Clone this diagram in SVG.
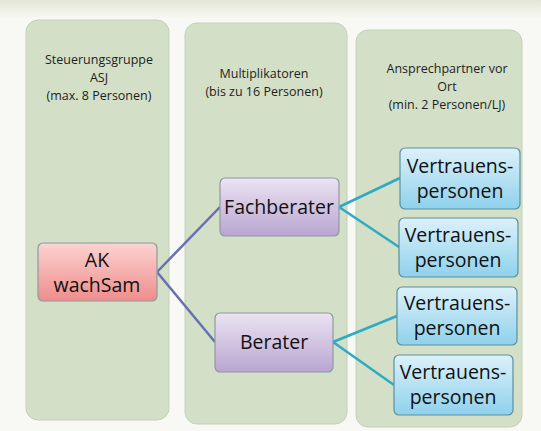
<svg xmlns="http://www.w3.org/2000/svg" width="541" height="431" viewBox="0 0 541 431">
<defs>
<linearGradient id="bgTop" x1="0" y1="0" x2="0" y2="1">
<stop offset="0" stop-color="#e3e6d6"/><stop offset="1" stop-color="#f7f8f2"/>
</linearGradient>
<linearGradient id="gRed" x1="0" y1="0" x2="0" y2="1">
<stop offset="0" stop-color="#fbd3d1"/><stop offset="1" stop-color="#ef8d8b"/>
</linearGradient>
<linearGradient id="gPur" x1="0" y1="0" x2="0" y2="1">
<stop offset="0" stop-color="#ebe3f2"/><stop offset="1" stop-color="#b9a5d1"/>
</linearGradient>
<linearGradient id="gBlu" x1="0" y1="0" x2="0" y2="1">
<stop offset="0" stop-color="#dcf1fa"/><stop offset="1" stop-color="#8fd1ec"/>
</linearGradient>
</defs>
<style>
.col{fill:#d3e0c7;stroke:#c3d1b8;stroke-width:1}
.hdr{font-family:"Open Sans","Liberation Sans",sans-serif;font-size:12.5px;fill:#1e1e1e;text-anchor:middle}
.lbl{font-family:"Open Sans","Liberation Sans",sans-serif;font-size:19.5px;fill:#111;text-anchor:middle}
.red{fill:url(#gRed);stroke:#8a9aa0;stroke-width:1.2}
.pur{fill:url(#gPur);stroke:#8a9aa0;stroke-width:1.2}
.blu{fill:url(#gBlu);stroke:#5a8fa0;stroke-width:1.2}
.c1{stroke:#6870b2;stroke-width:2.5;fill:none}
.c2{stroke:#2eaac4;stroke-width:2.5;fill:none}
</style>
<rect x="0" y="0" width="541" height="431" fill="#f8f9f4"/>
<rect x="0" y="0" width="541" height="18" fill="url(#bgTop)"/>
<g id="col1">
<rect class="col" x="26" y="20" width="143" height="400" rx="12"/>
<text class="hdr" x="99" y="64">Steuerungsgruppe</text>
<text class="hdr" x="99" y="82">ASJ</text>
<text class="hdr" x="99" y="100">(max. 8 Personen)</text>
</g>
<g id="col2">
<rect class="col" x="185" y="23" width="162" height="401" rx="12"/>
<text class="hdr" x="264" y="78">Multiplikatoren</text>
<text class="hdr" x="264" y="96">(bis zu 16 Personen)</text>
</g>
<g id="col3">
<rect class="col" x="356" y="30" width="166" height="397" rx="12"/>
<text class="hdr" x="447" y="73">Ansprechpartner vor</text>
<text class="hdr" x="447" y="91">Ort</text>
<text class="hdr" x="447" y="109">(min. 2 Personen/LJ)</text>
</g>
<g id="connectors">
<line class="c1" x1="157" y1="272" x2="220" y2="207"/>
<line class="c1" x1="157" y1="272" x2="215" y2="342"/>
<line class="c2" x1="339" y1="207" x2="400" y2="178"/>
<line class="c2" x1="339" y1="207" x2="399" y2="247"/>
<line class="c2" x1="333" y1="342" x2="397" y2="316"/>
<line class="c2" x1="333" y1="342" x2="394" y2="385"/>
</g>
<g id="ak">
<rect class="red" x="38" y="243" width="119" height="58" rx="5"/>
<text class="lbl" x="97" y="267">AK</text>
<text class="lbl" x="97" y="292">wachSam</text>
</g>
<g id="fachberater">
<rect class="pur" x="220" y="178" width="119" height="58" rx="5"/>
<text class="lbl" x="279" y="214">Fachberater</text>
</g>
<g id="berater">
<rect class="pur" x="215" y="313" width="118" height="59" rx="5"/>
<text class="lbl" x="274" y="349">Berater</text>
</g>
<g id="v1">
<rect class="blu" x="400" y="148" width="120" height="61" rx="5"/>
<text class="lbl" x="460" y="173">Vertrauens-</text>
<text class="lbl" x="460" y="198">personen</text>
</g>
<g id="v2">
<rect class="blu" x="399" y="218" width="119" height="59" rx="5"/>
<text class="lbl" x="458" y="242">Vertrauens-</text>
<text class="lbl" x="458" y="267">personen</text>
</g>
<g id="v3">
<rect class="blu" x="397" y="287" width="120" height="58" rx="5"/>
<text class="lbl" x="457" y="310">Vertrauens-</text>
<text class="lbl" x="457" y="335">personen</text>
</g>
<g id="v4">
<rect class="blu" x="394" y="355" width="119" height="60" rx="5"/>
<text class="lbl" x="453" y="379">Vertrauens-</text>
<text class="lbl" x="453" y="404">personen</text>
</g>
</svg>
